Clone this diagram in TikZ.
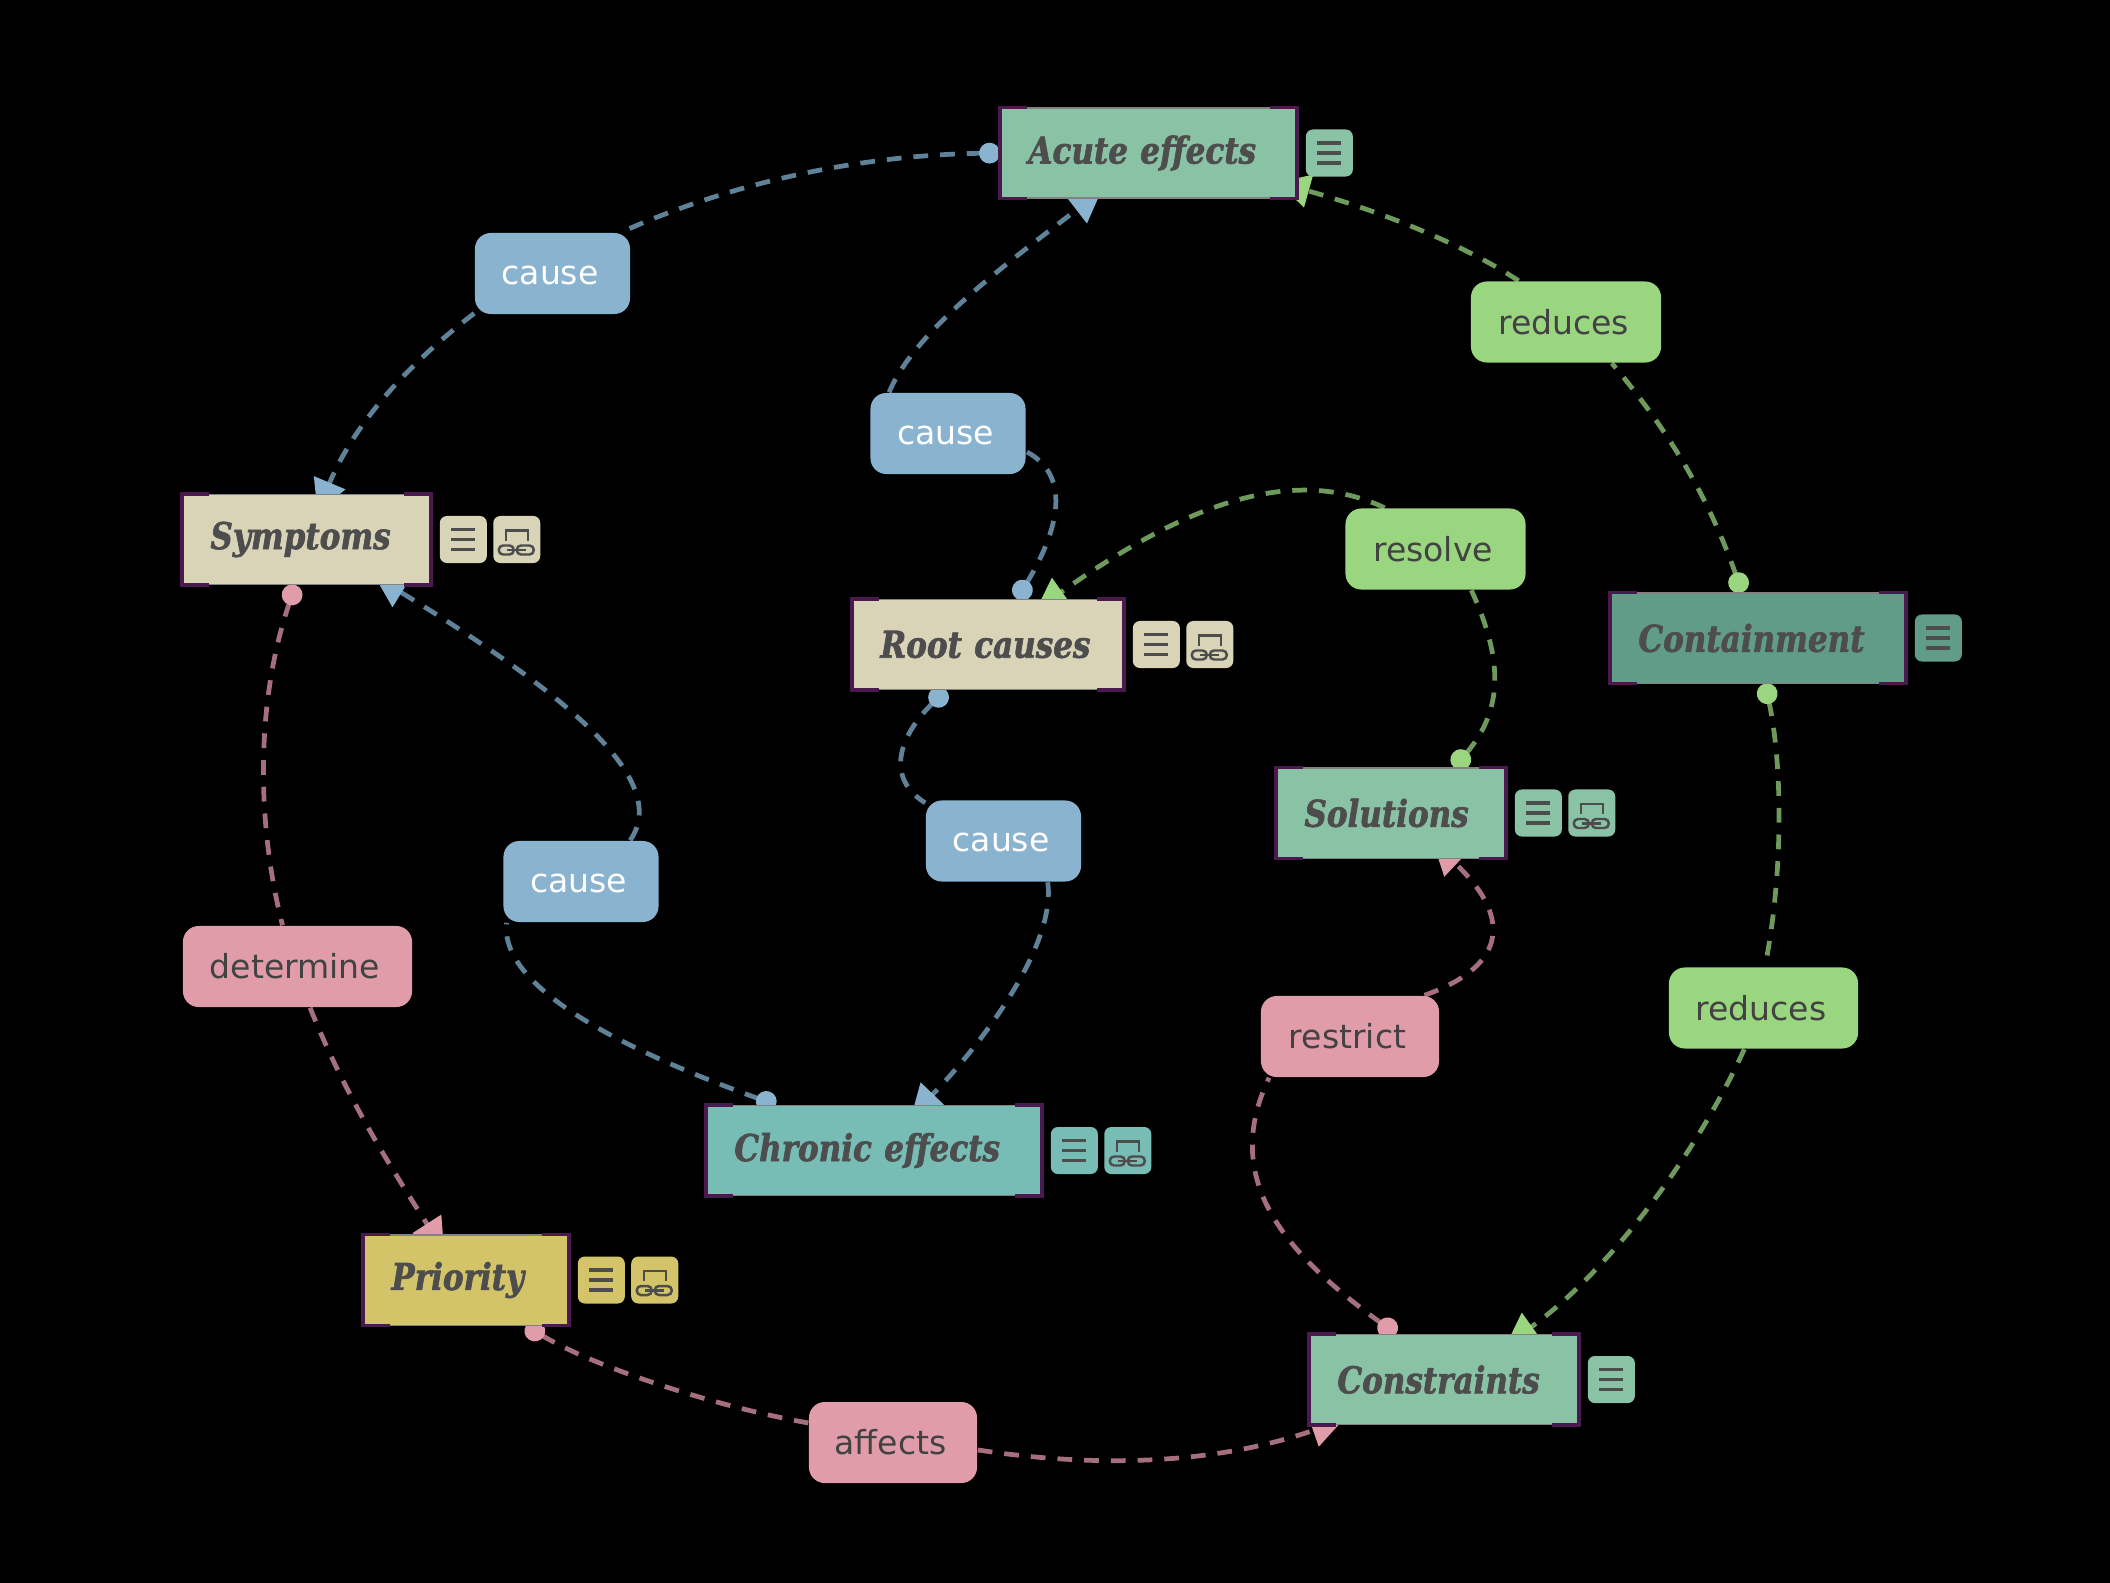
\documentclass[tikz,border=0pt]{standalone}
\usepackage{fontspec}
\setmainfont{DejaVu Sans}
\newfontfamily\conceptfont[FakeStretch=0.84,FakeBold=1.6]{DejaVu Serif}
\usetikzlibrary{arrows.meta,positioning}
\definecolor{bluelight}{HTML}{8AB3CF}
\definecolor{bluedark}{HTML}{5F8299}
\definecolor{greenlight}{HTML}{9AD57F}
\definecolor{greendark}{HTML}{6F9A5E}
\definecolor{pinklight}{HTML}{E09DA9}
\definecolor{pinkdark}{HTML}{A56F7E}
\definecolor{mint}{HTML}{8AC2A6}
\definecolor{sand}{HTML}{D9D4B8}
\definecolor{pine}{HTML}{619C88}
\definecolor{teal}{HTML}{78BDB5}
\definecolor{straw}{HTML}{D3C46A}
\definecolor{ink}{HTML}{4D4D4D}
\definecolor{rim}{HTML}{4A1A4E}
\pgfdeclarelayer{back}
\pgfsetlayers{back,main}

\begin{document}
\begin{tikzpicture}[
  x=.01cm,y=-.01cm,
  concept/.style={draw=ink!70,line width=.3pt,minimum height=.90cm,inner xsep=.28cm,inner ysep=0pt,
    font=\conceptfont\bfseries\itshape\fontsize{10.5}{12}\selectfont,text=ink,align=left},
  relation/.style={rounded corners=4.5pt,minimum width=#1,minimum height=.81cm,inner sep=0pt,
    font=\fontsize{9.4}{12}\selectfont,execute at begin node={\hspace*{-1.4pt}}},
  bluerel/.style={relation=1.55cm,fill=bluelight,text=white,text height=6.2pt,text depth=0pt},
  greenrel/.style={relation=#1,fill=greenlight,text=ink!85!black},
  pinkrel/.style={relation=#1,fill=pinklight,text=ink!85!black},
  iconbox/.style={rounded corners=2pt,minimum size=.47cm,inner sep=0pt},
  glyph/.style={draw=ink,line width=.95pt,sharp corners},
  menuicon/.style={iconbox,fill=#1,path picture={
    \foreach \dy in {-10,0,10}
      \draw[glyph] ([shift={(-12,\dy)}]path picture bounding box.center) -- ++(24,0);
  }},
  linkicon/.style={iconbox,fill=#1,path picture={
    \draw[glyph,line width=.7pt] ([shift={(-11,1)}]path picture bounding box.center) |- ++(11,-10) -| ++(11,10);
    \draw[glyph,line width=.7pt,rounded corners=1.2pt] ([shift={(-18,6)}]path picture bounding box.center) rectangle ++(15,9);
    \draw[glyph,line width=.7pt,rounded corners=1.2pt] ([shift={(0,6)}]path picture bounding box.center) rectangle ++(17,9);
    \draw[glyph,line width=.7pt] ([shift={(-10,10.5)}]path picture bounding box.center) -- ++(19,0);
  }},
  conn/.style={line width=1.35pt,dash pattern=on 4.2pt off 3.4pt},
  dotted/.style={{Circle[length=5.9pt,color=#1]}-},
  headed/.style={-{Triangle[length=9pt,width=9.4pt,color=#1]}}
]
  \useasboundingbox (0,0) rectangle (2110,1582);
  \begin{pgfonlayer}{back}
    \fill[black] (-5,-5) rectangle (2115,1587);
  \end{pgfonlayer}

  % concepts
  \node[concept,fill=mint,minimum width=2.96cm,text width=2.40cm] (acute) at (1148.5,153) {Acute effects};
  \node[concept,fill=sand,minimum width=2.48cm,text width=1.92cm] (symptoms) at (306.5,539.5) {Symptoms};
  \node[concept,fill=sand,minimum width=2.71cm,text width=2.15cm] (root) at (988,644.5) {Root causes};
  \node[concept,fill=pine,minimum width=2.95cm,text width=2.39cm] (containment) at (1758,638) {Containment};
  \node[concept,fill=mint,minimum width=2.29cm,text width=1.73cm] (solutions) at (1391,813) {Solutions};
  \node[concept,fill=teal,minimum width=3.35cm,text width=2.79cm] (chronic) at (874,1150.5) {Chronic effects};
  \node[concept,fill=straw,minimum width=2.05cm,text width=1.49cm] (priority) at (466,1280) {Priority};
  \node[concept,fill=mint,minimum width=2.69cm,text width=2.13cm] (constraints) at (1444,1379.5) {Constraints};

  \foreach \n in {acute,symptoms,root,containment,solutions,chronic,priority,constraints}
    \draw[rim,line width=1pt,line cap=rect]
      ([shift={(25,0)}]\n.north west) -- (\n.north west) -- (\n.south west) -- ([shift={(25,0)}]\n.south west)
      ([shift={(-25,0)}]\n.north east) -- (\n.north east) -- (\n.south east) -- ([shift={(-25,0)}]\n.south east);

  % icons
  \node[menuicon=mint,right=.08cm of acute] (acutemenu) {};
  \node[menuicon=sand,right=.08cm of symptoms] (symptomsmenu) {};
  \node[linkicon=sand,right=.05cm of symptomsmenu] (symptomslink) {};
  \node[menuicon=sand,right=.08cm of root] (rootmenu) {};
  \node[linkicon=sand,right=.05cm of rootmenu] (rootlink) {};
  \node[menuicon=pine,right=.08cm of containment] (containmentmenu) {};
  \node[menuicon=mint,right=.08cm of solutions] (solutionsmenu) {};
  \node[linkicon=mint,right=.05cm of solutionsmenu] (solutionslink) {};
  \node[menuicon=teal,right=.08cm of chronic] (chronicmenu) {};
  \node[linkicon=teal,right=.05cm of chronicmenu] (chroniclink) {};
  \node[menuicon=straw,right=.08cm of priority] (prioritymenu) {};
  \node[linkicon=straw,right=.05cm of prioritymenu] (prioritylink) {};
  \node[menuicon=mint,right=.08cm of constraints] (constraintsmenu) {};

  % relations
  \node[bluerel] (causeA) at (552.5,273.5) {cause};
  \node[bluerel] (causeB) at (948,433.5) {cause};
  \node[bluerel] (causeC) at (1003.5,841) {cause};
  \node[bluerel] (causeD) at (581,881.5) {cause};
  \node[greenrel=1.90cm] (reducesA) at (1566,322) {reduces};
  \node[greenrel=1.80cm] (resolve) at (1435.5,549) {resolve};
  \node[greenrel=1.89cm] (reducesB) at (1763.5,1008) {reduces};
  \node[pinkrel=2.29cm] (determine) at (297.5,966.5) {determine};
  \node[pinkrel=1.78cm] (restrict) at (1350,1036.5) {restrict};
  \node[pinkrel=1.68cm] (affects) at (893,1442.5) {affects};

  % connectors
  \begin{pgfonlayer}{back}
    \begin{scope}[conn,draw=bluedark]
      \draw[dotted=bluelight] (acute.west) .. controls (861,155) and (733,182) .. (causeA.31);
      \draw[headed=bluelight] (causeA.207) .. controls (417,357) and (357,417) .. ([shift={(11,18)}]symptoms.north);
      \draw[dotted=bluelight] ([shift={(29,0)}]root.north) .. controls (1054,538) and (1076,478) .. (causeB.-13);
      \draw[headed=bluelight] (causeB.145) .. controls (915,330) and (1009,262) .. ([shift={(-47,-8)}]acute.south);
      \draw[dotted=bluelight] ([shift={(-42,0)}]root.south) .. controls (895,740) and (888,780) .. (causeC.154);
      \draw[headed=bluelight] (causeC.-43) .. controls (1056,942) and (989,1036) .. ([shift={(37,12)}]chronic.north);
      \draw[dotted=bluelight] ([shift={(-98,0)}]chronic.north) .. controls (660,1063) and (498,996) .. (causeD.209);
      \draw[headed=bluelight] (causeD.40) .. controls (672,780) and (565,693) .. ([shift={(68,-9)}]symptoms.south);
    \end{scope}
    \begin{scope}[conn,draw=greendark]
      \draw[dotted=greenlight] ([shift={(-16,0)}]containment.north) .. controls (1709,498) and (1669,431) .. (reducesA.-42);
      \draw[headed=greenlight] (reducesA.139) .. controls (1460,242) and (1373,209) .. ([shift={(-19,-16)}]acute.south east);
      \draw[dotted=greenlight] ([shift={(63,0)}]solutions.north) .. controls (1507,706) and (1500,653) .. (resolve.-49);
      \draw[headed=greenlight] (resolve.141) .. controls (1292,464) and (1184,505) .. ([shift={(48,11)}]root.north);
      \draw[dotted=greenlight] ([shift={(7,0)}]containment.south) .. controls (1783,767) and (1783,875) .. (reducesB.88);
      \draw[headed=greenlight] (reducesB.-115) .. controls (1695,1157) and (1608,1272) .. ([shift={(62,11)}]constraints.north);
    \end{scope}
    \begin{scope}[conn,draw=pinkdark]
      \draw[dotted=pinklight] ([shift={(-11,0)}]symptoms.south) .. controls (256,700) and (256,821) .. (determine.110);
      \draw[headed=pinklight] (determine.-73) .. controls (343,1090) and (384,1157) .. ([shift={(-22,16)}]priority.north);
      \draw[dotted=pinklight] ([shift={(60,0)}]priority.south) .. controls (592,1366) and (713,1406) .. (affects.167);
      \draw[headed=pinklight] (affects.-5) .. controls (1090,1467) and (1211,1466) .. ([shift={(-101,-5)}]constraints.south);
      \draw[dotted=pinklight] ([shift={(-48,0)}]constraints.north) .. controls (1292,1258) and (1218,1184) .. (restrict.207);
      \draw[headed=pinklight] (restrict.29) .. controls (1510,965) and (1510,915) .. ([shift={(42,-16)}]solutions.south);
    \end{scope}
  \end{pgfonlayer}
\end{tikzpicture}
\end{document}
